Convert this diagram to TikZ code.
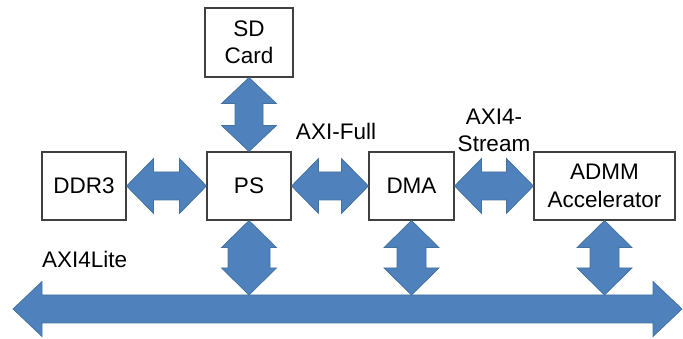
\documentclass[tikz,border=0pt]{standalone}
\usepackage{fontspec}
\setmainfont{Liberation Sans}
\usetikzlibrary{calc}

\definecolor{busfill}{HTML}{4F81BD}
\definecolor{busline}{HTML}{41719C}
\definecolor{boxline}{HTML}{404040}

\tikzset{
  block/.style={draw=boxline, line width=1.1pt, fill=white, align=center,
    inner sep=0pt, font=\fontsize{22.5}{27.5}\selectfont},
  buslabel/.style={inner sep=0pt, align=center, font=\fontsize{22.5}{27.5}\selectfont},
  blockarrow/.style={fill=busfill, draw=busline, line width=0.7pt, line join=miter},
}

% horizontal double block arrow: #1 left end, #2 right end,
% #3 half head width, #4 half shaft width, #5 head length
\newcommand\hblock[5]{%
  \path[blockarrow] let \p1=(#1), \p2=(#2) in
    (\x1,\y1) -- (\x1+#5,\y1+#3) -- (\x1+#5,\y1+#4) -- (\x2-#5,\y1+#4)
    -- (\x2-#5,\y1+#3) -- (\x2,\y1) -- (\x2-#5,\y1-#3) -- (\x2-#5,\y1-#4)
    -- (\x1+#5,\y1-#4) -- (\x1+#5,\y1-#3) -- cycle;}

% vertical double block arrow: #1 top end, #2 bottom end
\newcommand\vblock[5]{%
  \path[blockarrow] let \p1=(#1), \p2=(#2) in
    (\x1,\y1) -- (\x1+#3,\y1-#5) -- (\x1+#4,\y1-#5) -- (\x1+#4,\y2+#5)
    -- (\x1+#3,\y2+#5) -- (\x1,\y2) -- (\x1-#3,\y2+#5) -- (\x1-#4,\y2+#5)
    -- (\x1-#4,\y1-#5) -- (\x1-#3,\y1-#5) -- cycle;}

\begin{document}
\begin{tikzpicture}[x=1pt, y=1pt]
  \useasboundingbox (0,0) rectangle (683,339);

  % blocks
  \node[block, minimum width=88pt, minimum height=69pt] (sd)   at (249,296.5) {SD\\Card};
  \node[block, minimum width=84pt, minimum height=68pt] (ddr)  at (84,153)    {DDR3};
  \node[block, minimum width=84pt, minimum height=68pt] (ps)   at (249,153)   {PS};
  \node[block, minimum width=85pt, minimum height=68pt] (dma)  at (411.5,153) {DMA};
  \node[block, minimum width=141pt, minimum height=68pt] (admm) at (604.5,153) {ADMM\\Accelerator};

  % AXI4-Lite bus
  \coordinate (busL) at (13,30);
  \coordinate (busR) at (682,30);
  \coordinate (busTop) at (0,44);
  \hblock{busL}{busR}{27.5pt}{14pt}{29pt}

  % links between blocks
  \hblock{ddr.east}{ps.west}{27.5pt}{14pt}{27pt}
  \hblock{ps.east}{dma.west}{27.5pt}{14pt}{27pt}
  \hblock{dma.east}{admm.west}{27.5pt}{14pt}{27pt}
  \vblock{sd.south}{ps.north}{27.5pt}{14pt}{26pt}

  % links down to the bus
  \vblock{ps.south}{ps.south |- busTop}{27.5pt}{21pt}{27pt}
  \vblock{dma.south}{dma.south |- busTop}{27.5pt}{14.5pt}{27pt}
  \vblock{admm.south}{admm.south |- busTop}{27.5pt}{14.5pt}{27pt}

  % bus labels
  \node[buslabel] (lfull) at (336,208) {AXI-Full};
  \node[buslabel] (lstream) at (494,208.5) {AXI4-\\Stream};
  \node[buslabel, anchor=west] (llite) at (42,80) {AXI4Lite};
\end{tikzpicture}
\end{document}
